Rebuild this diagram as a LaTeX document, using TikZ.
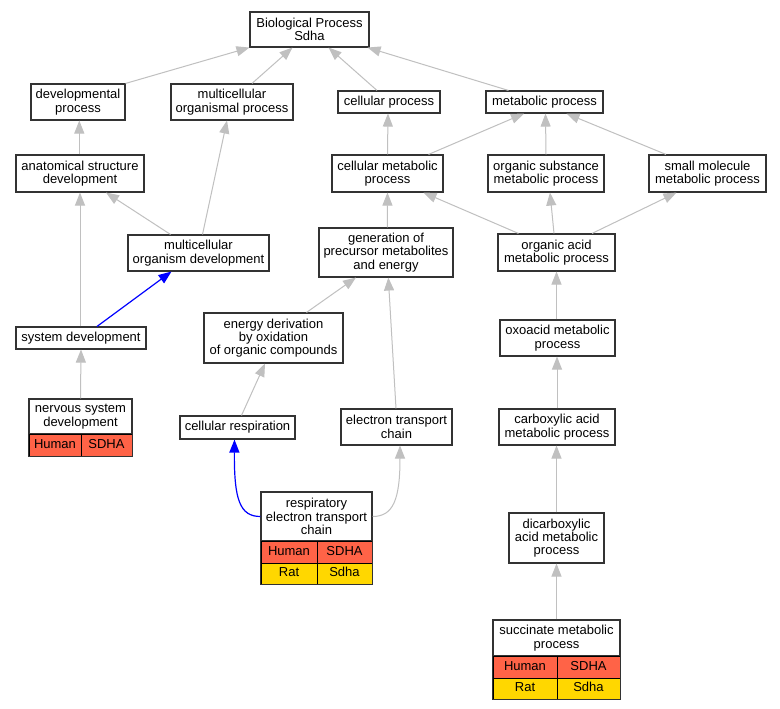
\documentclass[tikz,border=0pt]{standalone}
\usepackage{fontspec}
\setmainfont{Liberation Sans}
\usetikzlibrary{arrows.meta}
\definecolor{edgegray}{RGB}{192,192,192}
\definecolor{cellred}{HTML}{FF6347}
\definecolor{cellgold}{HTML}{FFD700}
\begin{document}
\begin{tikzpicture}[x=1pt,y=-1pt,
  box/.style={draw=black!80, line width=1.1pt, fill=white, inner sep=0pt, align=center,
    font=\fontsize{13}{13.3}\selectfont},
  cell/.style={draw=black, line width=0.8pt, inner sep=0pt, align=center,
    text height=9.4pt, text depth=2.6pt, font=\fontsize{13}{13.3}\selectfont},
  redcell/.style={cell, fill=cellred},
  goldcell/.style={cell, fill=cellgold},
  edge/.style={draw=edgegray, line width=1pt, -{Triangle[length=13pt,width=10pt]}},
  blueedge/.style={draw=blue, line width=1.2pt, -{Triangle[length=13pt,width=10pt]}},
  tabframe/.style={draw=black!80, line width=1.1pt}
]
\useasboundingbox (0,0) rectangle (780,709);
\fill[white] (0,0) rectangle (780,709);

% nodes
\node[box, minimum width=119pt, minimum height=35pt] (bp) at (309.5,29.5) {Biological Process\\Sdha};
\node[box, minimum width=94pt, minimum height=36pt] (dev) at (78,102) {developmental\\process};
\node[box, minimum width=122pt, minimum height=36pt] (mop) at (232,102) {multicellular\\organismal process};
\node[box, minimum width=102pt, minimum height=22pt] (cp) at (389,102) {cellular process};
\node[box, minimum width=117pt, minimum height=22pt] (mp) at (544.5,102) {metabolic process};
\node[box, minimum width=128pt, minimum height=37pt] (asd) at (80,173.5) {anatomical structure\\development};
\node[box, minimum width=111pt, minimum height=37pt] (cmp) at (387.5,173.5) {cellular metabolic\\process};
\node[box, minimum width=116pt, minimum height=37pt] (osmp) at (546,173.5) {organic substance\\metabolic process};
\node[box, minimum width=117pt, minimum height=37pt] (smmp) at (707.5,173.5) {small molecule\\metabolic process};
\node[box, minimum width=141pt, minimum height=36pt] (mod) at (198.5,253) {multicellular\\organism development};
\node[box, minimum width=134pt, minimum height=49pt] (gen) at (386,252.5) {generation of\\precursor metabolites\\and energy};
\node[box, minimum width=117pt, minimum height=37pt] (oamp) at (556.5,252.5) {organic acid\\metabolic process};
\node[box, minimum width=130pt, minimum height=22pt] (sd) at (81,338) {system development};
\node[box, minimum width=139pt, minimum height=50pt] (ed) at (273.5,338) {energy derivation\\by oxidation\\of organic compounds};
\node[box, minimum width=115pt, minimum height=36pt] (oxo) at (557.5,338) {oxoacid metabolic\\process};
\node[box, minimum width=115pt, minimum height=23pt] (cr) at (237.5,427.5) {cellular respiration};
\node[box, minimum width=111pt, minimum height=36pt] (etc) at (396.5,427) {electron transport\\chain};
\node[box, minimum width=116pt, minimum height=36pt] (car) at (557,427) {carboxylic acid\\metabolic process};
\node[box, minimum width=95pt, minimum height=50pt] (dic) at (556.5,538) {dicarboxylic\\acid metabolic\\process};

% table: nervous system development
\node[box, minimum width=103pt, minimum height=35pt] (nsd) at (80.5,416.5) {nervous system\\development};
\node[redcell, minimum width=52pt, minimum height=22pt] (nsdA) at (55,445) {Human};
\node[redcell, minimum width=51pt, minimum height=22pt] (nsdB) at (106.5,445) {SDHA};
\draw[tabframe] (nsd.north west) rectangle (nsdB.south east);

% table: respiratory electron transport chain
\node[box, minimum width=111pt, minimum height=49pt] (resp) at (316.5,516.5) {respiratory\\electron transport\\chain};
\node[redcell, minimum width=56pt, minimum height=22pt] (respA) at (289,552) {Human};
\node[redcell, minimum width=55pt, minimum height=22pt] (respB) at (344.5,552) {SDHA};
\node[goldcell, minimum width=56pt, minimum height=21pt] (respC) at (289,573.5) {Rat};
\node[goldcell, minimum width=55pt, minimum height=21pt] (respD) at (344.5,573.5) {Sdha};
\draw[tabframe] (resp.north west) rectangle (respD.south east);

% table: succinate metabolic process
\node[box, minimum width=127pt, minimum height=36pt] (suc) at (556.5,638) {succinate metabolic\\process};
\node[redcell, minimum width=64pt, minimum height=22pt] (sucA) at (525,667) {Human};
\node[redcell, minimum width=63pt, minimum height=22pt] (sucB) at (588.5,667) {SDHA};
\node[goldcell, minimum width=64pt, minimum height=21pt] (sucC) at (525,688.5) {Rat};
\node[goldcell, minimum width=63pt, minimum height=21pt] (sucD) at (588.5,688.5) {Sdha};
\draw[tabframe] (suc.north west) rectangle (sucD.south east);

% edges
\draw[edge] (dev.north east) -- (bp.south west);
\draw[edge] ([xshift=20pt]mop.north) -- ([xshift=-17pt]bp.south);
\draw[edge] ([xshift=-12pt]cp.north) -- ([xshift=19pt]bp.south);
\draw[edge] ([xshift=-36pt]mp.north) -- ([xshift=-2pt]bp.south east);
\draw[edge] ([xshift=-0.7pt]asd.north) -- ([xshift=1.3pt]dev.south);
\draw[edge] ([xshift=-28pt]mod.north) -- ([xshift=26pt]asd.south);
\draw[edge] ([xshift=4pt]mod.north) -- ([xshift=-5pt]mop.south);
\draw[edge] ([xshift=-1pt]sd.north) -- (asd.south);
\draw[blueedge] ([xshift=16pt]sd.north) -- ([xshift=-27pt]mod.south);
\draw[edge] (nsd.north) -- (sd.north |- sd.south);
\draw[edge] (cmp.north) -- ([xshift=-1pt]cp.south);
\draw[edge] ([xshift=41pt]cmp.north) -- ([xshift=-20.5pt]mp.south);
\draw[edge] (osmp.north) -- ([xshift=1pt]mp.south);
\draw[edge] ([xshift=-41.5pt]smmp.north) -- ([xshift=22pt]mp.south);
\draw[edge] ([xshift=1.3pt]gen.north) -- (cmp.south);
\draw[edge] ([xshift=-38pt]oamp.north) -- ([xshift=36pt]cmp.south);
\draw[edge] ([xshift=-2.5pt]oamp.north) -- ([xshift=4pt]osmp.south);
\draw[edge] ([xshift=35.5pt]oamp.north) -- ([xshift=-31pt]smmp.south);
\draw[edge] ([xshift=33pt]ed.north) -- ([xshift=-30pt]gen.south);
\draw[edge] ([xshift=-0.5pt]etc.north) -- ([xshift=2.3pt]gen.south);
\draw[edge] ([xshift=4pt]cr.north) -- ([xshift=-8.5pt]ed.south);
\draw[blueedge] (resp.west) .. controls (240,516.5) and (234,500) .. ([xshift=-3pt]cr.south);
\draw[edge] (resp.east) .. controls (393,516.5) and (400,500) .. ([xshift=3.5pt]etc.south);
\draw[edge] (oxo.north -| oamp.south) -- (oamp.south);
\draw[edge] (car.north) -- (oxo.south -| car.north);
\draw[edge] (dic.north) -- (car.south -| dic.north);
\draw[edge] (suc.north) -- (dic.south);
\end{tikzpicture}
\end{document}
